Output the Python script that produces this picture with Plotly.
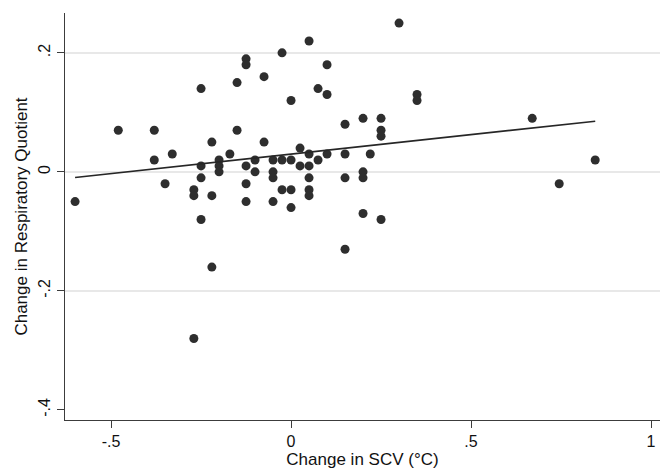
import numpy as np
import plotly.graph_objects as go

# Change in SCV (°C)
scv_change = [
    -0.60, -0.48, -0.38, -0.38, -0.33, -0.35, -0.25, -0.25, -0.25, -0.27,
    -0.27, -0.22, -0.25, -0.22, -0.20, -0.20, -0.20, -0.17, -0.15, -0.15,
    -0.125, -0.125, -0.125, -0.125, -0.125, -0.10, -0.10, -0.075, -0.075, -0.05,
    -0.05, -0.05, -0.05, -0.025, -0.025, -0.025, 0.0, 0.0, 0.0, 0.0,
    0.025, 0.025, 0.05, 0.05, 0.05, 0.05, 0.05, 0.05, 0.075, 0.075,
    0.10, 0.10, 0.10, 0.15, 0.15, 0.15, 0.15, -0.22, -0.27, 0.30,
    0.35, 0.35, 0.20, 0.25, 0.25, 0.25, 0.67, 0.22, 0.20, 0.20,
    0.20, 0.25, 0.845, 0.745,
]
# Change in Respiratory Quotient
rq_change = [
    -0.05, 0.07, 0.07, 0.02, 0.03, -0.02, 0.14, 0.01, -0.01, -0.03,
    -0.04, -0.04, -0.08, 0.05, 0.02, 0.01, 0.00, 0.03, 0.15, 0.07,
    0.19, 0.18, 0.01, -0.02, -0.05, 0.02, 0.00, 0.16, 0.05, 0.02,
    0.00, -0.01, -0.05, 0.20, 0.02, -0.03, 0.12, 0.02, -0.03, -0.06,
    0.04, 0.01, 0.22, 0.03, 0.01, -0.01, -0.03, -0.04, 0.14, 0.02,
    0.18, 0.13, 0.03, 0.08, 0.03, -0.01, -0.13, -0.16, -0.28, 0.25,
    0.13, 0.12, 0.09, 0.09, 0.07, 0.06, 0.09, 0.03, 0.00, -0.01,
    -0.07, -0.08, 0.02, -0.02,
]

x_ticks = [-0.5, 0, 0.5, 1]
x_tick_labels = ["-.5", "0", ".5", "1"]
y_ticks = [-0.4, -0.2, 0, 0.2]
y_tick_labels = ["-.4", "-.2", "0", ".2"]
y_grid = [-0.2, 0, 0.2]

x = np.array(scv_change)
y = np.array(rq_change)
slope, intercept = np.polyfit(x, y, 1)
fit_x = np.array([x.min(), x.max()])
fit_y = intercept + slope * fit_x

FONT = "Liberation Sans, Arial, sans-serif"
AXIS_COLOR = "#3c3c3c"
X_RANGE = [-0.628, 1.025]
Y_RANGE = [-0.417, 0.267]

fig = go.Figure()
fig.add_trace(go.Scatter(
    x=x, y=y, mode="markers",
    marker=dict(size=9, color="#2e2e2e", line=dict(width=0)),
    showlegend=False, hoverinfo="x+y",
))
fig.add_trace(go.Scatter(
    x=fit_x, y=fit_y, mode="lines",
    line=dict(color="#262626", width=1.6),
    showlegend=False, hoverinfo="skip",
))
# invisible trace on overlay axis used only for gridlines
fig.add_trace(go.Scatter(x=[None], y=[None], yaxis="y2", showlegend=False, hoverinfo="skip"))

fig.update_layout(
    width=662, height=470,
    margin=dict(l=65, r=2, t=13, b=50, autoexpand=False),
    paper_bgcolor="white", plot_bgcolor="white",
    font=dict(family=FONT, size=16, color="#111111"),
    xaxis=dict(
        range=X_RANGE, tickvals=x_ticks, ticktext=x_tick_labels,
        showgrid=False, zeroline=False, automargin=False,
        showline=True, linecolor=AXIS_COLOR, linewidth=1.3,
        ticks="outside", ticklen=7, tickwidth=1.2, tickcolor=AXIS_COLOR,
        tickfont=dict(size=16),
        title=dict(text="Change in SCV (°C)", font=dict(size=17), standoff=2),
    ),
    yaxis=dict(
        range=Y_RANGE, tickvals=y_ticks, ticktext=y_tick_labels,
        showgrid=False, zeroline=False, automargin=False,
        showline=True, linecolor=AXIS_COLOR, linewidth=1.3,
        ticks="outside", ticklen=7, tickwidth=1.2, tickcolor=AXIS_COLOR,
        tickangle=-90, tickfont=dict(size=16),
        title=dict(text="Change in Respiratory Quotient", font=dict(size=17), standoff=4),
    ),
    yaxis2=dict(
        range=Y_RANGE, overlaying="y", tickvals=y_grid, showticklabels=False,
        showgrid=True, gridcolor="#e8e8e8", gridwidth=1.5, zeroline=False,
        showline=False, ticks="", layer="below traces",
    ),
)

fig.write_html(
    "out.html",
    config={"displayModeBar": False},
    post_script="document.body.style.margin='0';document.body.style.overflow='hidden';",
)
